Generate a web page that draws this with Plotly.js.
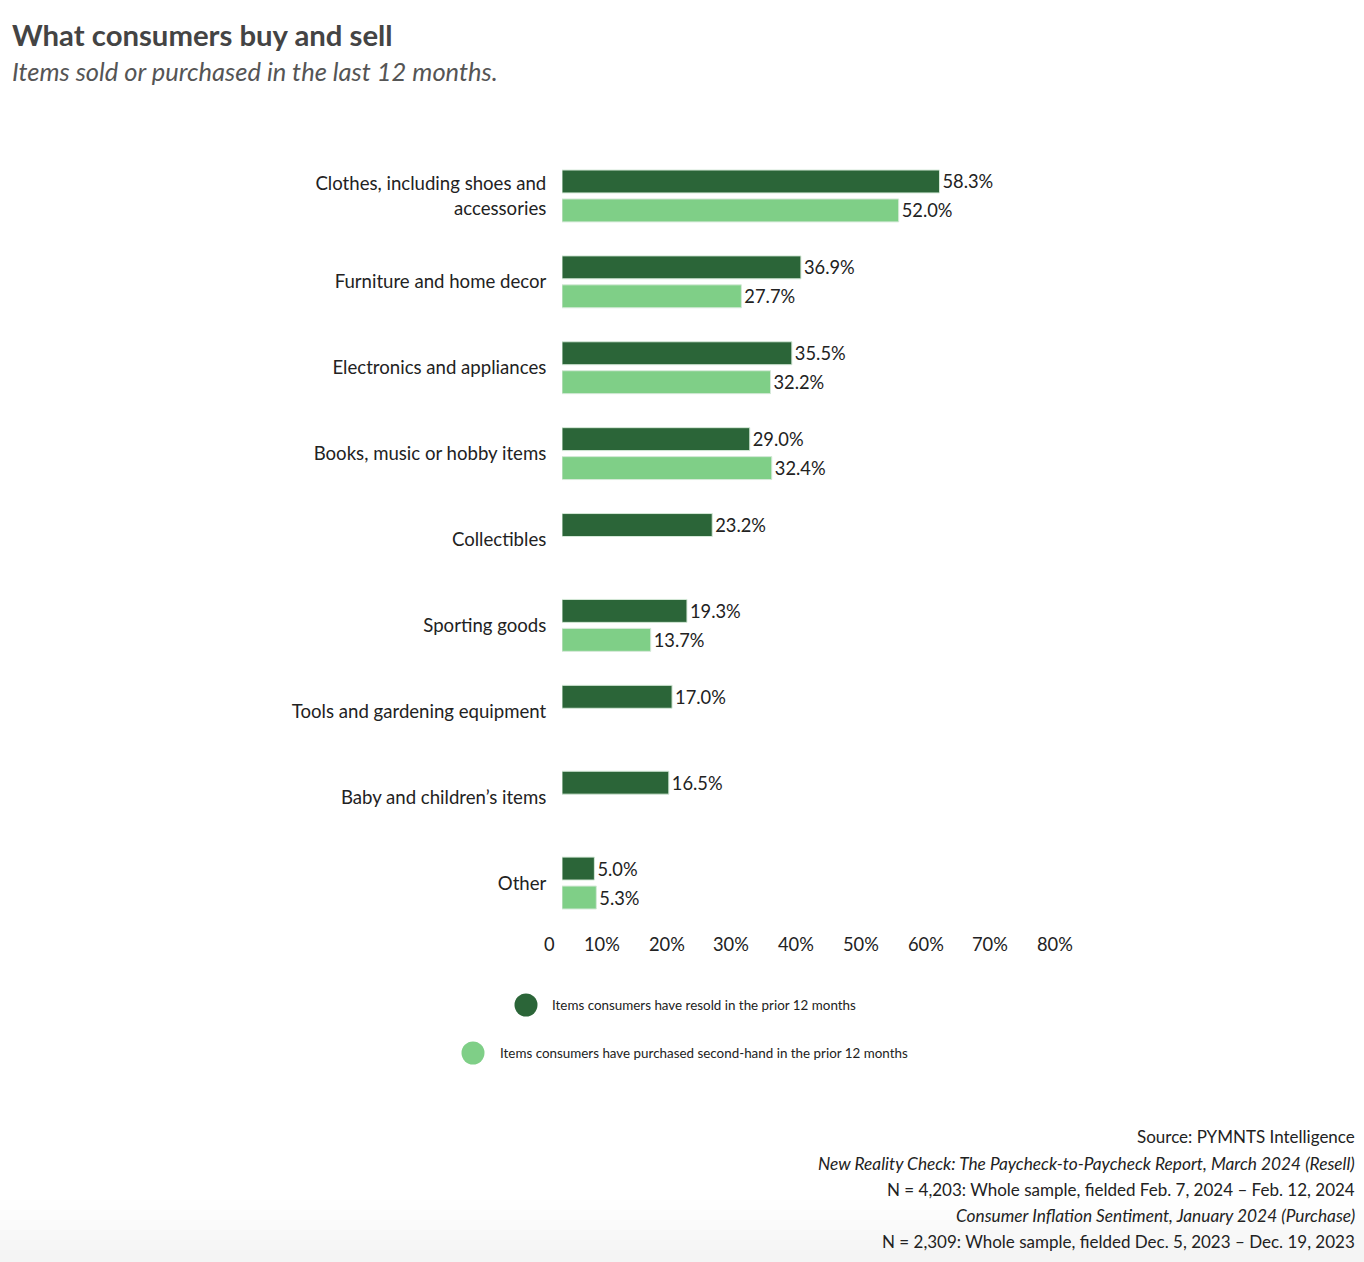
<!DOCTYPE html>
<html>
<head>
<meta charset="utf-8">
<script src="https://cdn.plot.ly/plotly-3.0.1.min.js"></script>
<style>html,body{margin:0;padding:0;background:#fff;}#chart{width:1364px;height:1262px;}</style>
</head>
<body>
<div id="chart"></div>
<script>
const categories = [
  "Clothes, including shoes and<br>accessories",
  "Furniture and home decor",
  "Electronics and appliances",
  "Books, music or hobby items",
  "Collectibles",
  "Sporting goods",
  "Tools and gardening equipment",
  "Baby and children’s items",
  "Other"
];
const resold = [58.3, 36.9, 35.5, 29.0, 23.2, 19.3, 17.0, 16.5, 5.0];
const purchased = [52.0, 27.7, 32.2, 32.4, null, 13.7, null, null, 5.3];
const seriesNames = [
  "Items consumers have resold in the prior 12 months",
  "Items consumers have purchased second-hand in the prior 12 months"
];
const tickValues = [0, 10, 20, 30, 40, 50, 60, 70, 80];
const tickLabels = ["0", "10%", "20%", "30%", "40%", "50%", "60%", "70%", "80%"];
const titleText = "What consumers buy and sell";
const subtitleText = "Items sold or purchased in the last 12 months.";
const sourceLines = [
  {text: "Source: PYMNTS Intelligence", italic: false},
  {text: "New Reality Check: The Paycheck-to-Paycheck Report, March 2024 (Resell)", italic: true},
  {text: "N = 4,203: Whole sample, fielded Feb. 7, 2024 – Feb. 12, 2024", italic: false},
  {text: "Consumer Inflation Sentiment, January 2024 (Purchase)", italic: true},
  {text: "N = 2,309: Whole sample, fielded Dec. 5, 2023 – Dec. 19, 2023", italic: false}
];

const W = 1364, H = 1262;
const M = {l: 562, r: 284, t: 153, b: 336};
const PW = W - M.l - M.r, PH = H - M.t - M.b;
const px = x => (x - M.l) / PW;
const py = y => (H - M.b - y) / PH;

const DARK = "#2b6538", LIGHT = "#7fcf87";
const FONT = "Lato, 'Open Sans', sans-serif";

const traces = [
  {type: "bar", orientation: "h", name: seriesNames[0], y: categories, x: resold,
   marker: {color: DARK, line: {color: "#d5e9d8", width: 1}},
   texttemplate: "%{x:.1f}%", textposition: "outside", cliponaxis: false,
   textfont: {family: FONT, size: 18.3, color: "#222"}, hoverinfo: "x+y", showlegend: false},
  {type: "bar", orientation: "h", name: seriesNames[1], y: categories, x: purchased,
   marker: {color: LIGHT, line: {color: "#d5e9d8", width: 1}},
   texttemplate: "%{x:.1f}%", textposition: "outside", cliponaxis: false,
   textfont: {family: FONT, size: 18.3, color: "#222"}, hoverinfo: "x+y", showlegend: false}
];

const annotations = [];
tickValues.forEach((v, i) => {
  annotations.push({xref: "x", yref: "paper", x: v, y: 0, xanchor: "right", yanchor: "middle",
    xshift: -6, yshift: -18, showarrow: false, text: tickLabels[i], borderpad: 0,
    font: {family: FONT, size: 18.3, color: "#222"}});
});
annotations.push({xref: "paper", yref: "paper", x: px(11), y: py(71), xanchor: "left", yanchor: "middle",
  showarrow: false, borderpad: 0, text: "<i>" + subtitleText + "</i>",
  font: {family: FONT, size: 25.5, color: "#555"}});
const legendPos = [{cx: 526, cy: 1005, tx: 551}, {cx: 473, cy: 1053, tx: 499}];
const legendColors = [DARK, LIGHT];
const shapes = [];
// soft grey fade at the page bottom
const fade = ["#fefefe", "#fcfcfc", "#fafafa", "#f8f8f8", "#f6f6f6", "#f4f4f4"];
fade.forEach((c, i) => {
  shapes.push({type: "rect", xref: "paper", yref: "paper", layer: "below",
    x0: px(0), x1: px(W), y0: py(1200 + i * 10), y1: py(1212 + i * 10 > H ? H : 1212 + i * 10),
    fillcolor: c, line: {width: 0}});
});
legendPos.forEach((p, i) => {
  shapes.push({type: "circle", xref: "paper", yref: "paper", xsizemode: "pixel", ysizemode: "pixel",
    xanchor: px(p.cx), yanchor: py(p.cy), x0: -11.5, x1: 11.5, y0: -11.5, y1: 11.5,
    fillcolor: legendColors[i], line: {width: 0}});
  annotations.push({xref: "paper", yref: "paper", x: px(p.tx), y: py(p.cy), xanchor: "left", yanchor: "middle",
    showarrow: false, borderpad: 0, text: seriesNames[i], font: {family: FONT, size: 13.4, color: "#222"}});
});
const srcY = [1136, 1163, 1189, 1215, 1241];
sourceLines.forEach((s, i) => {
  annotations.push({xref: "paper", yref: "paper", x: px(1356), y: py(srcY[i]), xanchor: "right", yanchor: "middle",
    showarrow: false, borderpad: 0, text: s.italic ? "<i>" + s.text + "</i>" : s.text,
    font: {family: FONT, size: s.italic ? 17.3 : 17, color: "#222"}});
});

const layout = {
  width: W, height: H,
  margin: M,
  paper_bgcolor: "#fff", plot_bgcolor: "rgba(0,0,0,0)",
  font: {family: FONT, color: "#222"},
  title: {text: "<b>" + titleText + "</b>", xref: "container", yref: "container",
    x: 12 / W, xanchor: "left", y: 1 - 36 / H, yanchor: "middle",
    font: {family: FONT, size: 29.3, color: "#444"}},
  barmode: "group", bargap: 0.326, bargroupgap: 0.207,
  xaxis: {range: [0, 80], showgrid: false, zeroline: false, showline: false, showticklabels: false,
    ticks: "", fixedrange: true},
  yaxis: {type: "category", autorange: "reversed", showgrid: false, zeroline: false, showline: false,
    ticks: "outside", ticklen: 11, tickcolor: "rgba(0,0,0,0)",
    tickfont: {family: FONT, size: 18.6, color: "#222"}, fixedrange: true},
  annotations: annotations,
  shapes: shapes,
  showlegend: false
};

Plotly.newPlot("chart", traces, layout, {displayModeBar: false, staticPlot: true});
</script>
</body>
</html>
